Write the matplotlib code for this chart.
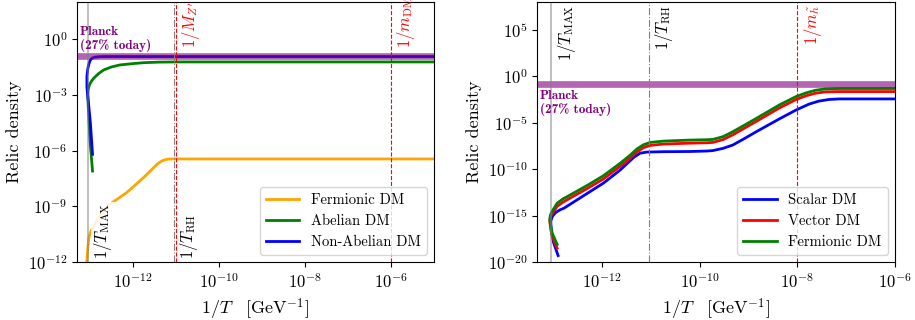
import numpy as np
import matplotlib
matplotlib.use("Agg")
import matplotlib.pyplot as plt

plt.rcParams['font.family'] = 'serif'
plt.rcParams['font.serif'] = ['cmr10', 'DejaVu Serif']
plt.rcParams['mathtext.fontset'] = 'cm'
plt.rcParams['axes.formatter.use_mathtext'] = True
plt.rcParams['axes.unicode_minus'] = False
plt.rcParams['font.size'] = 12

# --- data: log10(1/T) and log10(relic density) ---
# left panel
fermion_x = [-13.1, -13.07, -13.05, -13.03, -13.0, -12.97, -12.91, -12.8, -12.53, -12.14, -11.75,
             -11.44, -11.33, -11.25, -11.18, -11.1, -5]
fermion_y = [-12.6, -11.9, -11.3, -10.75, -10.5, -10.3, -10.04, -9.6, -8.88, -8.25, -7.45,
             -6.74, -6.56, -6.49, -6.46, -6.45, -6.45]
abelian_x = [-12.94, -13.0, -13.04, -13.05, -13.04, -13.01, -12.96, -12.91, -12.8, -12.68, -12.5,
             -12.3, -12.0, -11.75, -11.4, -10.98, -5]
abelian_y = [-7.1, -5.4, -3.6, -3.0, -2.7, -2.45, -2.25, -2.1, -1.86, -1.66, -1.5,
             -1.39, -1.32, -1.27, -1.24, -1.23, -1.23]
nonab_x = [-12.94, -12.99, -13.04, -13.07, -13.07, -13.05, -13.02, -12.99, -12.95, -12.9, -12.8, -12.68, -12.4, -5]
nonab_y = [-6.2, -4.5, -3.3, -2.6, -2.0, -1.6, -1.3, -1.13, -1.03, -0.98, -0.95, -0.94, -0.94, -0.94]

# right panel
green_x = [-12.92, -12.97, -13.02, -13.05, -13.07, -13.06, -13.04, -13.0, -12.92, -12.8, -12.65, -12.31,
           -11.97, -11.63, -11.42, -11.29, -11.15, -11.01, -10.74, -10.2, -9.86, -9.73, -9.52, -9.32,
           -9.08, -8.84, -8.37, -8.03, -7.82, -7.62, -7.42, -7.14, -6]
fermion_r_y = [-18.1, -17.5, -16.9, -16.1, -15.45, -15.0, -14.7, -14.35, -13.66, -13.2, -12.77, -11.77,
               -10.7, -9.37, -8.48, -7.85, -7.37, -7.12, -6.98, -6.87, -6.83, -6.8, -6.5, -5.97,
               -5.26, -4.54, -3.1, -2.2, -1.79, -1.5, -1.36, -1.32, -1.32]
vector_y = [-18.5, -17.9, -17.2, -16.4, -15.6, -15.2, -14.95, -14.65, -14.0, -13.55, -13.1, -12.1,
            -11.05, -9.7, -8.8, -8.18, -7.68, -7.44, -7.3, -7.2, -7.16, -7.12, -6.82, -6.3,
            -5.58, -4.86, -3.42, -2.52, -2.1, -1.82, -1.68, -1.65, -1.65]
scalar_x = [-12.9, -12.99, -13.04, -13.05, -13.02, -12.95, -12.87, -12.78, -12.51, -11.97, -11.63,
            -11.35, -11.22, -11.08, -10.74, -10.2, -9.86, -9.73, -9.52, -9.32, -9.08, -8.84,
            -8.37, -8.03, -7.76, -7.56, -7.35, -7.14, -6]
scalar_y = [-19.3, -17.95, -16.7, -15.6, -15.1, -14.67, -14.4, -14.2, -13.3, -11.5, -10.1,
            -8.73, -8.28, -8.16, -8.12, -8.1, -8.05, -8.0, -7.76, -7.4, -6.7, -5.97,
            -4.6, -3.65, -3.0, -2.68, -2.5, -2.44, -2.44]

planck = 0.13
T_max_inv = 9e-14
T_rh_inv = 9e-12
MZ_inv = 1e-11
mDM_inv = 1e-6
mh_inv = 1e-8

fig = plt.figure(figsize=(9.15, 3.2), dpi=100)
ax1 = fig.add_axes([0.0842, 0.181, 0.390, 0.813])
ax2 = fig.add_axes([0.587, 0.181, 0.391, 0.813])

lw = 2.0
lab = 12
xlab = r'$1/T\quad[\mathrm{GeV}^{-1}]$'
# ---- left ----
ax1.plot(10**np.array(fermion_x), 10**np.array(fermion_y), color='orange', lw=lw, label='Fermionic DM')
ax1.plot(10**np.array(abelian_x), 10**np.array(abelian_y), color='green', lw=lw, label='Abelian DM')
ax1.plot(10**np.array(nonab_x), 10**np.array(nonab_y), color='blue', lw=lw, label='Non-Abelian DM')
ax1.axhline(planck, color='purple', alpha=0.6, lw=4.8)
ax1.axvline(T_max_inv, color='gray', alpha=0.5, lw=1.4)
ax1.axvline(T_rh_inv, color='gray', ls='-.', lw=0.8)
ax1.axvline(MZ_inv, color='red', ls='--', lw=0.8)
ax1.axvline(mDM_inv, color='red', ls='--', lw=0.8)
ax1.set_xscale('log')
ax1.set_yscale('log')
ax1.set_xlim(10**-13.3, 1e-5)
ax1.set_ylim(1e-12, 1e2)
ax1.set_xticks([1e-12, 1e-10, 1e-8, 1e-6])
ax1.set_yticks([1e-12, 1e-9, 1e-6, 1e-3, 1e0])
ax1.minorticks_off()
ax1.set_xlabel(xlab, fontsize=13)
ax1.set_ylabel('Relic density', fontsize=13)
ax1.text(T_max_inv * 1.25, 10**-11.85, r'$1/T_{\rm MAX}$', rotation=90, fontsize=lab,
         ha='left', va='bottom', bbox=dict(facecolor='white', alpha=0.85, edgecolor='none', pad=1))
ax1.text(T_rh_inv * 1.25, 10**-11.85, r'$1/T_{\rm RH}$', rotation=90, fontsize=lab,
         ha='left', va='bottom')
ax1.text(MZ_inv * 1.25, 10**-0.5, r"$1/M_{Z'}$", rotation=90, fontsize=lab, color='red',
         ha='left', va='bottom')
ax1.text(mDM_inv * 1.25, 10**-0.5, r'$1/m_{\rm DM}$', rotation=90, fontsize=lab, color='red',
         ha='left', va='bottom')
ax1.text(10**-13.24, 10**0.0, 'Planck\n(27% today)', color='purple', fontsize=9.5,
         family='cmb10', ha='left', va='center', linespacing=1.05)
ax1.legend(loc='lower right', fontsize=10.5, handlelength=2.3)

# ---- right ----
ax2.plot(10**np.array(scalar_x), 10**np.array(scalar_y), color='blue', lw=lw, label='Scalar DM')
ax2.plot(10**np.array(green_x), 10**np.array(vector_y), color='red', lw=lw, label='Vector DM')
ax2.plot(10**np.array(green_x), 10**np.array(fermion_r_y), color='green', lw=lw, label='Fermionic DM')
ax2.axhline(planck, color='purple', alpha=0.6, lw=4.8)
ax2.axvline(T_max_inv, color='gray', alpha=0.5, lw=1.4)
ax2.axvline(T_rh_inv, color='gray', ls='-.', lw=0.8)
ax2.axvline(mh_inv, color='red', ls='--', lw=0.8)
ax2.set_xscale('log')
ax2.set_yscale('log')
ax2.set_xlim(10**-13.33, 1e-6)
ax2.set_ylim(1e-20, 1e8)
ax2.set_xticks([1e-12, 1e-10, 1e-8, 1e-6])
ax2.set_yticks([1e-20, 1e-15, 1e-10, 1e-5, 1e0, 1e5])
ax2.minorticks_off()
ax2.set_xlabel(xlab, fontsize=13)
ax2.set_ylabel('Relic density', fontsize=13)
ax2.text(T_max_inv * 1.25, 10**7.65, r'$1/T_{\rm MAX}$', rotation=90, fontsize=lab,
         ha='left', va='top')
ax2.text(T_rh_inv * 1.25, 10**7.65, r'$1/T_{\rm RH}$', rotation=90, fontsize=lab,
         ha='left', va='top')
ax2.text(mh_inv * 1.25, 10**7.65, r'$1/m_{\tilde{h}}$', rotation=90, fontsize=lab, color='red',
         ha='left', va='top')
ax2.text(10**-13.27, 10**-2.9, 'Planck\n(27% today)', color='purple', fontsize=9.5,
         family='cmb10', ha='left', va='center', linespacing=1.05)
ax2.legend(loc='lower right', fontsize=10.5, handlelength=2.3)

fig.savefig('out.png', dpi=100)
